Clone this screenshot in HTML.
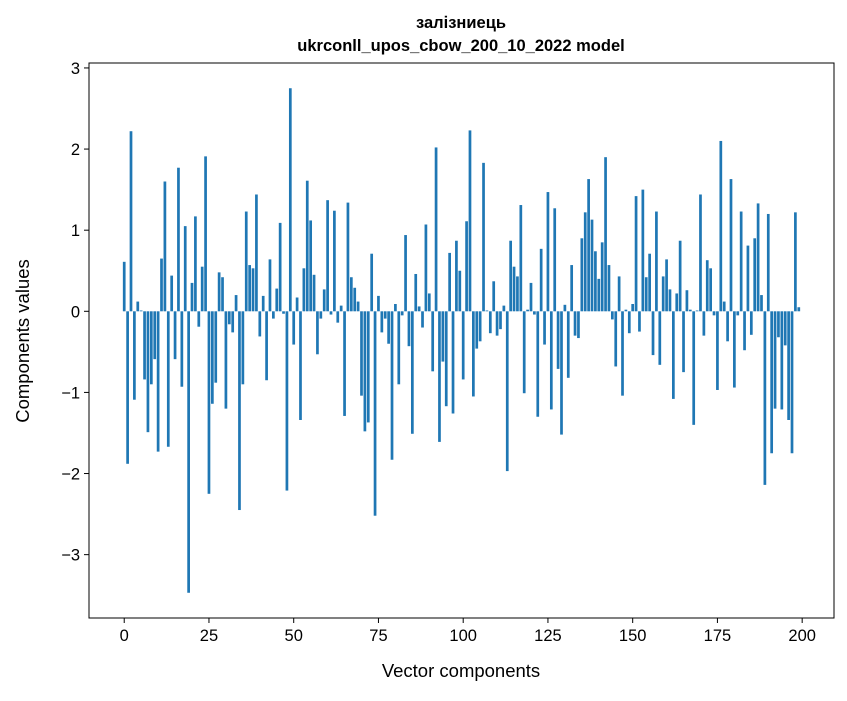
<!DOCTYPE html>
<html><head><meta charset="utf-8"><style>
body{margin:0;background:#fff;font-family:"Liberation Sans","DejaVu Sans",sans-serif;}
svg text{font-family:"Liberation Sans","DejaVu Sans",sans-serif;}
</style></head><body>
<svg id="chart" width="847" height="696" xmlns="http://www.w3.org/2000/svg">
<rect width="847" height="696" fill="#fff"/>
<text x="461" y="28" text-anchor="middle" font-size="16.5" font-weight="bold">залізниець</text>
<text x="461" y="51" text-anchor="middle" font-size="16.5" font-weight="bold">ukrconll_upos_cbow_200_10_2022 model</text>
<g id="bars"></g>
<g id="axes"></g>
<text x="461" y="677" text-anchor="middle" font-size="18.5">Vector components</text>
<text transform="translate(29,341) rotate(-90)" text-anchor="middle" font-size="18.5">Components values</text>
</svg>
<script>
const values = [0.61,-1.88,2.22,-1.09,0.12,0.01,-0.84,-1.49,-0.90,-0.59,-1.73,0.65,1.60,-1.67,0.44,-0.59,1.77,-0.93,1.05,-3.47,
0.35,1.17,-0.19,0.55,1.91,-2.25,-1.14,-0.88,0.48,0.42,-1.20,-0.16,-0.26,0.20,-2.45,-0.90,1.23,0.57,0.53,1.44,
-0.31,0.19,-0.85,0.64,-0.09,0.28,1.09,-0.03,-2.21,2.75,-0.41,0.17,-1.34,0.53,1.61,1.12,0.45,-0.53,-0.09,0.27,
1.37,-0.04,1.24,-0.14,0.07,-1.29,1.34,0.42,0.29,0.12,-1.04,-1.48,-1.37,0.71,-2.52,0.19,-0.26,-0.09,-0.40,-1.83,
0.09,-0.90,-0.05,0.94,-0.43,-1.51,0.46,0.06,-0.20,1.07,0.22,-0.74,2.02,-1.61,-0.62,-1.17,0.72,-1.26,0.87,0.50,
-0.84,1.11,2.23,-1.05,-0.46,-0.37,1.83,0.01,-0.27,0.37,-0.30,-0.22,0.07,-1.97,0.87,0.55,0.43,1.31,-1.01,0.02,
0.35,-0.04,-1.30,0.77,-0.41,1.47,-1.21,1.27,-0.71,-1.52,0.08,-0.82,0.57,-0.30,-0.33,0.90,1.22,1.63,1.13,0.74,
0.40,0.85,1.90,0.57,-0.10,-0.68,0.43,-1.04,0.02,-0.27,0.09,1.42,-0.25,1.50,0.42,0.71,-0.54,1.23,-0.66,0.43,
0.64,0.27,-1.08,0.22,0.87,-0.75,0.26,0.02,-1.40,0.01,1.44,-0.30,0.63,0.53,-0.05,-0.97,2.10,0.12,-0.37,1.63,
-0.94,-0.05,1.23,-0.48,0.81,-0.29,0.90,1.33,0.20,-2.14,1.20,-1.75,-1.20,-0.32,-1.21,-0.42,-1.34,-1.75,1.22,0.05];
const xTicks = [0,25,50,75,100,125,150,175,200];
const yTicks = [-3,-2,-1,0,1,2,3];
const NS="http://www.w3.org/2000/svg";
const L=89,R=834,T=63,B=618;
const n=values.length;
const xmin=-0.4-(n-1+0.8)*0.05, xmax=n-1+0.4+(n-1+0.8)*0.05;
const vmin=Math.min(0,...values), vmax=Math.max(0,...values);
const ymin=vmin-(vmax-vmin)*0.05, ymax=vmax+(vmax-vmin)*0.05;
const xs=v=>L+(v-xmin)/(xmax-xmin)*(R-L);
const ys=v=>B-(v-ymin)/(ymax-ymin)*(B-T);
const bars=document.getElementById('bars');
values.forEach((v,i)=>{
  const r=document.createElementNS(NS,'rect');
  
  
  r.setAttribute('x',xs(i-0.4));
  r.setAttribute('width',xs(0.4)-xs(-0.4));
  r.setAttribute('y',Math.min(ys(v),ys(0)));
  r.setAttribute('height',Math.abs(ys(v)-ys(0)));
  r.setAttribute('fill','#1f77b4');
  bars.appendChild(r);
});
const ax=document.getElementById('axes');
const frame=document.createElementNS(NS,'rect');


frame.setAttribute('x',L);frame.setAttribute('y',T);frame.setAttribute('width',R-L);frame.setAttribute('height',B-T);
frame.setAttribute('fill','none');frame.setAttribute('stroke','#000');frame.setAttribute('stroke-width','1');
ax.appendChild(frame);
xTicks.forEach(t=>{
  const x=xs(t);
  const l=document.createElementNS(NS,'line');
  
  
  l.setAttribute('x1',x);l.setAttribute('x2',x);l.setAttribute('y1',B);l.setAttribute('y2',B+5);l.setAttribute('stroke','#000');
  ax.appendChild(l);
  const tx=document.createElementNS(NS,'text');
  
  
  tx.setAttribute('x',x);tx.setAttribute('y',B+23);tx.setAttribute('text-anchor','middle');tx.setAttribute('font-size','16.5');
  tx.textContent=t;
  ax.appendChild(tx);
});
yTicks.forEach(t=>{
  const y=ys(t);
  const l=document.createElementNS(NS,'line');
  
  
  l.setAttribute('x1',L-5);l.setAttribute('x2',L);l.setAttribute('y1',y);l.setAttribute('y2',y);l.setAttribute('stroke','#000');
  ax.appendChild(l);
  const tx=document.createElementNS(NS,'text');
  
  
  tx.setAttribute('x',L-9);tx.setAttribute('y',y+6);tx.setAttribute('text-anchor','end');tx.setAttribute('font-size','16.5');
  tx.textContent=t<0?'\u2212'+Math.abs(t):t;
  ax.appendChild(tx);
});
</script>
</body></html>
